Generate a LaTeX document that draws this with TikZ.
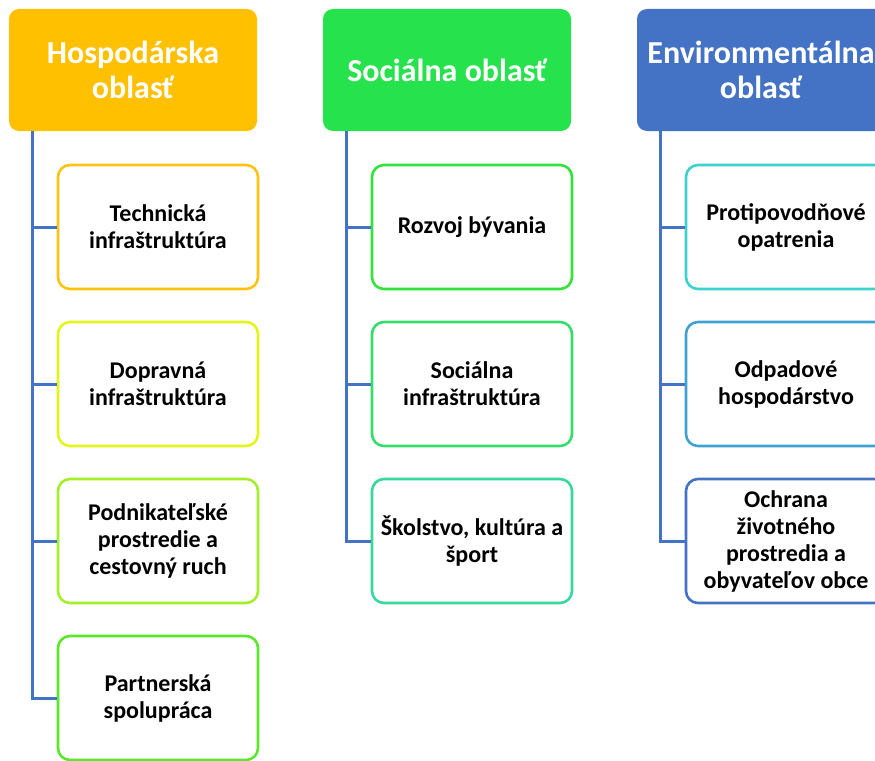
\documentclass[tikz,border=0pt]{standalone}
\usepackage{fontspec}
\setmainfont{Carlito}

\definecolor{hdrgold}{HTML}{FFC000}
\definecolor{hdrgreen}{HTML}{25E24D}
\definecolor{hdrblue}{HTML}{4472C4}
\definecolor{linkblue}{HTML}{4472C4}
\definecolor{techcol}{HTML}{FFC20E}
\definecolor{dopcol}{HTML}{E4F51A}
\definecolor{podcol}{HTML}{A2EF2A}
\definecolor{parcol}{HTML}{5CE82A}
\definecolor{bytcol}{HTML}{34E23C}
\definecolor{soccol}{HTML}{36DD6D}
\definecolor{skocol}{HTML}{38D89A}
\definecolor{procol}{HTML}{3CD2D0}
\definecolor{odpcol}{HTML}{3FA2D3}
\definecolor{ochcol}{HTML}{4472C4}

\begin{document}
\begin{tikzpicture}[x=1pt,y=-1pt,
  head/.style={rounded corners=10pt, minimum width=248pt, minimum height=122pt, inner sep=0pt, align=center, text=white, font=\fontsize{32}{35}\selectfont\bfseries},
  item/.style={draw, line width=2.6pt, rounded corners=12pt, minimum width=200pt, minimum height=124pt, inner sep=0pt, align=center, fill=white, font=\fontsize{24}{27}\selectfont\bfseries},
  link/.style={draw=linkblue, line width=3pt}]
\clip (0,0) rectangle (875,760);
\fill[white] (0,0) rectangle (875,760);

% headers
\node[head, fill=hdrgold] (hosp) at (133,70) {Hospodárska\\oblasť};
\node[head, fill=hdrgreen] (soc) at (447,70) {Sociálna oblasť};
\node[head, fill=hdrblue] (env) at (761,70) {Environmentálna\\oblasť};

% hospodarska
\node[item, draw=techcol] (tech) at (158,227) {Technická\\infraštruktúra};
\node[item, draw=dopcol] (dopr) at (158,384) {Dopravná\\infraštruktúra};
\node[item, draw=podcol] (podn) at (158,541) {Podnikateľské\\prostredie a\\cestovný ruch};
\node[item, draw=parcol] (part) at (158,698) {Partnerská\\spolupráca};

% socialna
\node[item, draw=bytcol] (byv) at (472,227) {Rozvoj bývania};
\node[item, draw=soccol] (sinf) at (472,384) {Sociálna\\infraštruktúra};
\node[item, draw=skocol] (skol) at (472,541) {Školstvo, kultúra a\\šport};

% environmentalna
\node[item, draw=procol] (prot) at (786,227) {Protipovodňové\\opatrenia};
\node[item, draw=odpcol] (odpa) at (786,384) {Odpadové\\hospodárstvo};
\node[item, draw=ochcol] (ochr) at (786,541) {Ochrana\\životného\\prostredia a\\obyvateľov obce};

\draw[link] ([xshift=24pt]hosp.south west) |- (tech.west);
\draw[link] ([xshift=24pt]hosp.south west) |- (dopr.west);
\draw[link] ([xshift=24pt]hosp.south west) |- (podn.west);
\draw[link] ([xshift=24pt]hosp.south west) |- (part.west);

\draw[link] ([xshift=24pt]soc.south west) |- (byv.west);
\draw[link] ([xshift=24pt]soc.south west) |- (sinf.west);
\draw[link] ([xshift=24pt]soc.south west) |- (skol.west);

\draw[link] ([xshift=24pt]env.south west) |- (prot.west);
\draw[link] ([xshift=24pt]env.south west) |- (odpa.west);
\draw[link] ([xshift=24pt]env.south west) |- (ochr.west);

\end{tikzpicture}
\end{document}
